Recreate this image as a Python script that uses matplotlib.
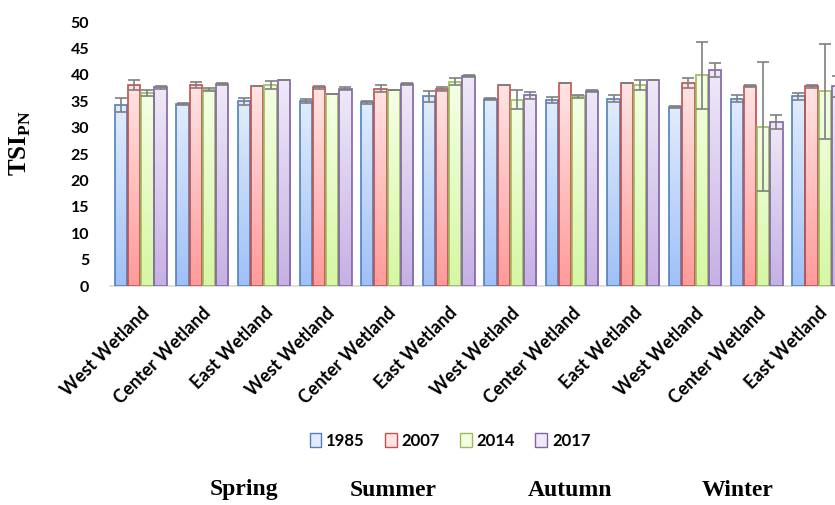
import numpy as np
import matplotlib.pyplot as plt
from matplotlib.colors import LinearSegmentedColormap
from matplotlib.patches import Patch

sites = ['West Wetland', 'Center Wetland', 'East Wetland'] * 4
seasons = ['Spring', 'Summer', 'Autumn', 'Winter']
years = ['1985', '2007', '2014', '2017']

tsi_1985 = [34.3, 34.5, 35.0, 35.1, 34.8, 35.9, 35.4, 35.2, 35.5, 33.9, 35.5, 35.9]
err_1985 = [1.4, 0.2, 0.7, 0.4, 0.3, 1.0, 0.2, 0.6, 0.7, 0.2, 0.7, 0.6]
tsi_2007 = [38.1, 38.1, 37.8, 37.6, 37.4, 37.3, 38.1, 38.5, 38.4, 38.4, 37.9, 37.8]
err_2007 = [1.0, 0.6, 0.0, 0.3, 0.6, 0.3, 0.0, 0.0, 0.0, 0.9, 0.2, 0.3]
tsi_2014 = [36.5, 37.2, 38.1, 36.4, 37.1, 38.7, 35.3, 35.9, 38.1, 39.9, 30.2, 36.9]
err_2014 = [0.6, 0.3, 0.7, 0.0, 0.0, 0.6, 1.8, 0.2, 0.9, 6.3, 12.2, 9.0]
tsi_2017 = [37.6, 38.3, 39.0, 37.4, 38.3, 39.8, 36.1, 37.0, 39.0, 40.9, 31.1, 37.8]
err_2017 = [0.2, 0.2, 0.0, 0.2, 0.2, 0.2, 0.7, 0.2, 0.0, 1.3, 1.3, 2.0]

values = [tsi_1985, tsi_2007, tsi_2014, tsi_2017]
errors = [err_1985, err_2007, err_2014, err_2017]

# gradient colours (top, bottom) and edge colour per year
tops = ['#e2ecfc', '#ffe4e4', '#f4ffe6', '#efe9f8']
bottoms = ['#9fc0f7', '#ff9a9a', '#d6f7a3', '#c6b0e4']
edges = ['#4f81bd', '#c0504d', '#9bbb59', '#8064a2']

fig = plt.figure(figsize=(8.35, 5.05), dpi=100)
ax = fig.add_axes([110 / 835, 1 - 286 / 505, 739 / 835, 264 / 505])

x = np.arange(len(sites))
w = 0.2
step = 0.215
for i in range(4):
    pos = x + (i - 1.5) * step
    bars = ax.bar(pos, values[i], w, facecolor='none', edgecolor=edges[i],
                  linewidth=1.2, zorder=3)
    cmap = LinearSegmentedColormap.from_list('g%d' % i, [tops[i], bottoms[i]])
    grad = np.linspace(0, 1, 256).reshape(-1, 1)
    for b in bars:
        bx, by = b.get_x(), b.get_y()
        im = ax.imshow(grad, extent=[bx, bx + b.get_width(), by, by + b.get_height()],
                       cmap=cmap, aspect='auto', zorder=2)
        im.set_clip_path(b)
    ax.errorbar(pos, values[i], yerr=errors[i], fmt='none', ecolor='#7f7f7f',
                elinewidth=1.2, capsize=4, capthick=1.2, zorder=4)

ax.set_xlim(-0.5, len(sites) - 0.5)
ax.set_ylim(0, 50)
ax.set_yticks(range(0, 51, 5))
ax.set_xticks(x)
ax.set_xticklabels(sites, rotation=45, ha='right', rotation_mode='anchor',
                   fontsize=13, fontweight='bold', family='Lato')
for lab in ax.get_yticklabels():
    lab.set_fontsize(11.5)
    lab.set_fontweight('bold')
    lab.set_family('Lato')
ax.tick_params(axis='both', length=0)
ax.tick_params(axis='y', pad=15)
ax.tick_params(axis='x', pad=13)
for s in ['top', 'right', 'left']:
    ax.spines[s].set_visible(False)
ax.spines['bottom'].set_color('#d9d9d9')
ax.spines['bottom'].set_linewidth(1.2)

plt.rcParams['mathtext.fontset'] = 'custom'
plt.rcParams['mathtext.rm'] = 'Liberation Serif:bold'
fig.text(20 / 835, 1 - 143 / 505, r'TSI$_{\mathrm{PN}}$', rotation=90,
         ha='center', va='center', fontsize=18, fontweight='bold',
         family='Liberation Serif')

handles = [Patch(facecolor=tops[i], edgecolor=edges[i], linewidth=1) for i in range(4)]
fig.legend(handles, years, loc='center', bbox_to_anchor=(450 / 835, 1 - 441 / 505),
           ncol=4, frameon=False, handlelength=0.7, handleheight=0.9,
           handletextpad=0.3, columnspacing=1.2,
           prop={'family': 'Lato', 'weight': 'bold', 'size': 12})

season_x = [244, 393, 570, 738]
for sx, name in zip(season_x, seasons):
    fig.text(sx / 835, 1 - 490 / 505, name, ha='center', va='center',
             fontsize=17, fontweight='bold', family='Liberation Serif')

plt.savefig('out.png', dpi=100)
